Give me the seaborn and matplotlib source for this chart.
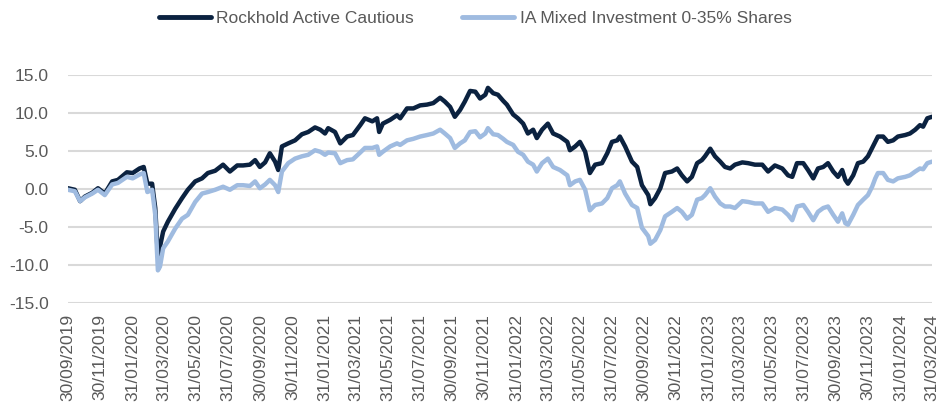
import warnings
warnings.simplefilter("ignore")

import pandas as pd
import matplotlib
matplotlib.use("Agg")
import matplotlib.pyplot as plt
import seaborn as sns

# cumulative performance (%)
dates = [
    "2019-09-30", "2019-10-13", "2019-10-23", "2019-11-01", "2019-11-15", "2019-11-26",
    "2019-12-09", "2019-12-23", "2020-01-03", "2020-01-20", "2020-01-31", "2020-02-13",
    "2020-02-21", "2020-02-28", "2020-03-08", "2020-03-14", "2020-03-19", "2020-03-23",
    "2020-03-29", "2020-04-07", "2020-04-21", "2020-05-04", "2020-05-15", "2020-05-29",
    "2020-06-11", "2020-06-22", "2020-07-06", "2020-07-21", "2020-08-03", "2020-08-17",
    "2020-08-28", "2020-09-10", "2020-09-20", "2020-09-29", "2020-10-09", "2020-10-18",
    "2020-10-28", "2020-11-03", "2020-11-10", "2020-11-22", "2020-12-05", "2020-12-18",
    "2020-12-30", "2021-01-12", "2021-01-22", "2021-01-31", "2021-02-06", "2021-02-19",
    "2021-03-01", "2021-03-14", "2021-03-25", "2021-04-08", "2021-04-17", "2021-05-01",
    "2021-05-10", "2021-05-14", "2021-05-21", "2021-06-04", "2021-06-17", "2021-06-23",
    "2021-07-06", "2021-07-18", "2021-07-31", "2021-08-13", "2021-08-25", "2021-09-07",
    "2021-09-16", "2021-09-26", "2021-10-05", "2021-10-15", "2021-10-24", "2021-11-03",
    "2021-11-13", "2021-11-22", "2021-12-02", "2021-12-07", "2021-12-17", "2021-12-26",
    "2022-01-05", "2022-01-12", "2022-01-24", "2022-02-02", "2022-02-12", "2022-02-21",
    "2022-03-03", "2022-03-10", "2022-03-20", "2022-03-31", "2022-04-10", "2022-04-23",
    "2022-05-07", "2022-05-12", "2022-05-22", "2022-05-31", "2022-06-10", "2022-06-19",
    "2022-06-29", "2022-07-12", "2022-07-22", "2022-07-31", "2022-08-10", "2022-08-15",
    "2022-08-25", "2022-09-07", "2022-09-17", "2022-09-26", "2022-10-08", "2022-10-12",
    "2022-10-21", "2022-10-31", "2022-11-09", "2022-11-22", "2022-12-02", "2022-12-11",
    "2022-12-21", "2022-12-30", "2023-01-09", "2023-01-18", "2023-01-24", "2023-02-03",
    "2023-02-12", "2023-02-22", "2023-03-03", "2023-03-13", "2023-03-22", "2023-04-05",
    "2023-04-16", "2023-04-29", "2023-05-13", "2023-05-24", "2023-06-06", "2023-06-20",
    "2023-07-01", "2023-07-09", "2023-07-18", "2023-07-30", "2023-08-08", "2023-08-18",
    "2023-08-27", "2023-09-06", "2023-09-15", "2023-09-25", "2023-10-04", "2023-10-12",
    "2023-10-18", "2023-10-23", "2023-11-02", "2023-11-11", "2023-11-21", "2023-11-30",
    "2023-12-08", "2023-12-14", "2023-12-19", "2023-12-29", "2024-01-07", "2024-01-17",
    "2024-01-26", "2024-02-09", "2024-02-18", "2024-02-28", "2024-03-08", "2024-03-14",
    "2024-03-22", "2024-03-31",
]

rockhold = [
    0.1, -0.1, -1.6, -1.0, -0.5, 0.1,
    -0.6, 1.0, 1.2, 2.2, 2.1, 2.7,
    2.9, 0.7, 0.7, -2.5, -8.9, -7.6,
    -5.6, -4.3, -2.6, -1.2, -0.1, 1.0,
    1.4, 2.1, 2.4, 3.2, 2.3, 3.1,
    3.1, 3.2, 3.8, 2.9, 3.5, 4.7,
    3.6, 2.5, 5.6, 6.0, 6.4, 7.2,
    7.5, 8.1, 7.8, 7.3, 8.0, 7.5,
    6.0, 6.9, 7.1, 8.4, 9.3, 8.9,
    9.3, 7.5, 8.6, 9.1, 9.7, 9.3,
    10.6, 10.6, 11.0, 11.1, 11.3, 12.0,
    11.5, 10.8, 9.5, 10.4, 11.5, 12.9,
    12.8, 11.9, 12.4, 13.3, 12.6, 12.4,
    11.6, 11.1, 9.8, 9.3, 8.6, 7.3,
    7.8, 6.7, 7.8, 8.6, 7.3, 6.9,
    6.2, 5.1, 5.6, 6.2, 4.9, 2.1,
    3.2, 3.4, 4.7, 6.2, 6.4, 6.9,
    5.6, 3.6, 2.9, 0.5, -0.8, -2.0,
    -1.2, 0.1, 2.1, 2.3, 2.7, 1.8,
    1.0, 1.6, 3.4, 3.8, 4.3, 5.3,
    4.3, 3.6, 2.9, 2.7, 3.2, 3.5,
    3.4, 3.2, 3.2, 2.3, 3.1, 2.7,
    1.8, 1.6, 3.4, 3.4, 2.5, 1.4,
    2.7, 2.9, 3.4, 2.3, 1.6, 2.5,
    1.2, 0.7, 1.8, 3.4, 3.6, 4.3,
    5.4, 6.2, 6.9, 6.9, 6.2, 6.4,
    6.9, 7.1, 7.3, 7.8, 8.4, 8.2,
    9.3, 9.5,
]

ia_mixed = [
    -0.1, -0.3, -1.6, -1.1, -0.6, -0.1,
    -0.8, 0.6, 0.8, 1.6, 1.4, 1.9,
    2.1, -0.4, -0.1, -3.4, -10.7, -10.2,
    -7.8, -6.9, -5.2, -3.9, -3.4, -1.7,
    -0.6, -0.4, -0.1, 0.3, -0.1, 0.5,
    0.5, 0.4, 1.0, 0.1, 0.6, 1.2,
    0.5, -0.4, 2.3, 3.4, 4.0, 4.3,
    4.5, 5.1, 4.9, 4.5, 4.8, 4.7,
    3.4, 3.8, 3.9, 4.8, 5.4, 5.4,
    5.6, 4.5, 4.9, 5.6, 6.0, 5.8,
    6.4, 6.6, 6.9, 7.1, 7.3, 7.8,
    7.3, 6.7, 5.4, 6.0, 6.4, 7.5,
    7.6, 6.8, 7.3, 8.0, 7.2, 7.1,
    6.6, 6.2, 5.8, 4.9, 4.5, 3.6,
    3.2, 2.3, 3.4, 4.0, 2.9, 2.5,
    1.8, 0.5, 1.0, 1.2, -0.1, -2.8,
    -2.1, -1.9, -1.2, 0.1, 0.5, 1.0,
    -0.6, -2.1, -2.5, -5.1, -6.2, -7.2,
    -6.7, -5.4, -3.6, -3.0, -2.5, -3.0,
    -3.9, -3.4, -1.4, -1.2, -0.8, 0.1,
    -1.0, -1.9, -2.3, -2.3, -2.5, -1.6,
    -1.7, -1.9, -1.9, -3.0, -2.5, -2.7,
    -3.4, -4.1, -2.3, -2.1, -3.0, -4.1,
    -3.0, -2.5, -2.3, -3.4, -4.3, -3.2,
    -4.5, -4.7, -3.4, -2.1, -1.4, -0.8,
    0.3, 1.4, 2.1, 2.1, 1.2, 1.0,
    1.4, 1.6, 1.8, 2.3, 2.7, 2.6,
    3.4, 3.6,
]

series_names = ["Rockhold Active Cautious", "IA Mixed Investment 0-35% Shares"]
series_colors = ["#0b2240", "#9fbbe0"]

tick_dates = [
    "2019-09-30", "2019-11-30", "2020-01-31", "2020-03-31", "2020-05-31", "2020-07-31",
    "2020-09-30", "2020-11-30", "2021-01-31", "2021-03-31", "2021-05-31", "2021-07-31",
    "2021-09-30", "2021-11-30", "2022-01-31", "2022-03-31", "2022-05-31", "2022-07-31",
    "2022-09-30", "2022-11-30", "2023-01-31", "2023-03-31", "2023-05-31", "2023-07-31",
    "2023-09-30", "2023-11-30", "2024-01-31", "2024-03-31",
]
y_ticks = [-15, -10, -5, 0, 5, 10, 15]

# long-form table for seaborn
df = pd.concat([
    pd.DataFrame({"Date": pd.to_datetime(dates), "Value": rockhold, "Series": series_names[0]}),
    pd.DataFrame({"Date": pd.to_datetime(dates), "Value": ia_mixed, "Series": series_names[1]}),
])

sns.set_style("white")
plt.rcParams["font.family"] = ["Liberation Sans", "DejaVu Sans"]

fig = plt.figure(figsize=(9.5, 4.03), dpi=100)
ax = fig.add_axes([0.0716, 0.248, 0.9095, 0.566])

sns.lineplot(data=df, x="Date", y="Value", hue="Series", hue_order=series_names,
             palette=dict(zip(series_names, series_colors)), linewidth=3.2, ax=ax)

ax.set_xlim(pd.Timestamp(tick_dates[0]), pd.Timestamp(tick_dates[-1]))
ax.set_ylim(-15, 15)
ax.set_yticks(y_ticks)
ax.set_yticklabels(["%.1f" % v for v in y_ticks])
ticks = pd.to_datetime(tick_dates)
ax.set_xticks(ticks)
ax.set_xticklabels([t.strftime("%d/%m/%Y") for t in ticks], rotation=90)

ax.grid(axis="y", color="#d9d9d9", linewidth=1.5)
ax.set_axisbelow(True)
for s in ax.spines.values():
    s.set_visible(False)
ax.tick_params(axis="both", length=0, labelsize=12.5, colors="#595959")
ax.tick_params(axis="y", pad=14)
ax.tick_params(axis="x", pad=8)
ax.set_xlabel("")
ax.set_ylabel("")

handles, labels = ax.get_legend_handles_labels()
ax.get_legend().remove()
leg = fig.legend(handles, labels, loc="center", bbox_to_anchor=(0.5, 0.955), ncol=2,
                 frameon=False, fontsize=12.5, handlelength=3.0, handletextpad=0.3,
                 columnspacing=2.8)
for t in leg.get_texts():
    t.set_color("#595959")
for h in leg.get_lines():
    h.set_linewidth(3.5)

fig.savefig("out.png", dpi=100)
